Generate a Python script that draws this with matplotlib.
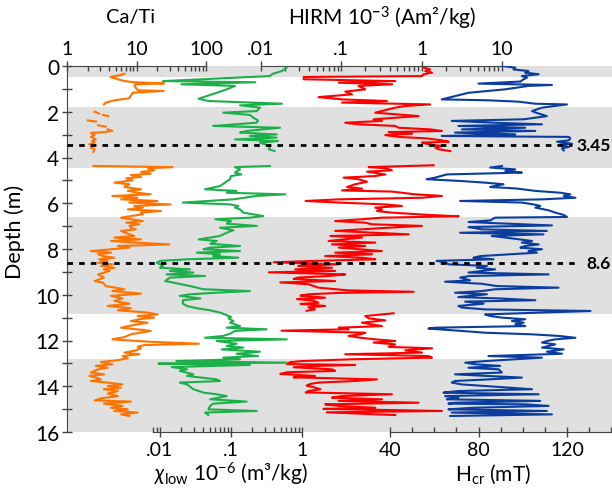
import numpy as np
import matplotlib
matplotlib.use('Agg')
import matplotlib.pyplot as plt
from matplotlib.ticker import FixedLocator, FixedFormatter, NullFormatter

plt.rcParams['font.family'] = ['Lato', 'DejaVu Sans']
plt.rcParams['mathtext.fontset'] = 'custom'
plt.rcParams['mathtext.rm'] = 'Lato'
plt.rcParams['mathtext.it'] = 'Lato:italic'
plt.rcParams['mathtext.bf'] = 'Lato:bold'

nan = np.nan

# ---------------- data ----------------
# Ca/Ti (orange)
cati_depth = [0.34, 0.39, 0.48, 0.58, 0.66, 0.71, 0.76, 0.80, 0.87, 1.06,
              1.09, 1.17, 1.41, 1.50, 1.60, 1.68, nan,
              2.00, 2.08, nan, 2.14, 2.19, nan, 2.38, 2.43, nan, 2.59, 2.65, nan,
              2.77, 2.84, 2.89, 2.93, 3.02, 3.10, 3.21, 3.28, 3.35, 3.42,
              3.50, 3.57, 3.64, 3.75, nan,
              4.37, 4.42, 4.47, 4.56, 4.63, 4.71, 4.77, 4.85, 4.91, 5.00,
              5.10, 5.17, 5.29, 5.39, 5.46, 5.54, 5.61, 5.68, 5.76, 5.83,
              5.90, 5.97, 6.05, 6.12, 6.19, 6.27, 6.34, 6.41, 6.48, 6.56,
              6.63, 6.70, 6.78, 6.85, 6.92, 6.99, 7.07, 7.14, 7.21, 7.36,
              7.43, 7.50, 7.58, 7.65, 7.72, 7.80, 7.87, 7.94, 8.01, 8.09,
              8.16, 8.23, 8.31, 8.38, 8.45, 8.52, 8.60, 8.67, 8.74, 8.82,
              8.89, 8.96, 9.11, 9.25, 9.40, 9.47, 9.62, 9.76, 9.84, 9.95,
              10.05, 10.16, 10.27, 10.39, 10.49, 10.59, 10.68, 10.78, 10.86, 10.93,
              11.00, 11.07, 11.15, 11.22, 11.37, 11.44, 11.58, 11.73, 11.85, 11.95,
              12.05, 12.14, 12.20, 12.27, 12.34, 12.43, 12.53, 12.60, 12.68, 12.78,
              12.87, 12.94, 13.04, 13.11, 13.19, 13.26, 13.40, 13.48, 13.55, 13.62,
              13.70, 13.77, 13.84, 13.92, 13.99, 14.06, 14.13, 14.21, 14.32, 14.43,
              14.53, 14.62, 14.67, 14.76, 14.86, 14.94, 15.01, 15.08, 15.15, 15.23,
              15.30]
cati = [6.7, 6.0, 4.2, 5.4, 6.7, 9.3, 25, 9.8, 9.3, 10.4,
        24.6, 8.8, 7.9, 4.8, 3.6, 3.4, nan,
        2.5, 2.9, nan, 3.3, 3.9, nan, 2.0, 2.6, nan, 2.8, 3.6, nan,
        3.85, 4.5, 3.4, 2.2, 2.5, 2.2, 2.6, 2.3, 2.5, 2.1,
        2.3, 2.2, 2.5, 2.4, nan,
        2.4, 33, 14.5, 18, 11.6, 16, 8.3, 11.6, 7.1, 8.8,
        4.8, 7.9, 6.7, 11.6, 7.5, 10.4, 16, 4.5, 10.4, 6.0,
        20, 7.9, 31, 9.3, 12.3, 7.5, 22.5, 11.6, 12.3, 8.3,
        6.0, 8.3, 12.3, 7.1, 11, 7.9, 8.3, 9.8, 6.0, 7.9,
        9.3, 4.8, 11.6, 4.3, 9.8, 29.7, 5.4, 7.9, 4.3, 2.2,
        4.3, 2.8, 3.3, 4.8, 2.9, 3.85, 2.8, 4.5, 3.1, 4.8,
        3.4, 4.1, 2.8, 3.4, 2.5, 3.3, 3.6, 6.7, 4.5, 11.6,
        4.3, 6.3, 4.8, 7.9, 3.85, 8.3, 5.4, 14.5, 20, 10.4,
        18, 11, 8.3, 14.5, 7.5, 6.0, 16, 8.3, 6.7, 4.5,
        14.5, 79, 13, 10.4, 11.6, 9.8, 6.7, 11, 6.3, 7.5,
        5.1, 3.1, 4.5, 2.6, 3.85, 2.8, 2.2, 3.4, 2.1, 2.6,
        3.1, 2.2, 3.85, 6.3, 3.85, 6.0, 3.4, 5.4, 3.85, 5.4,
        3.1, 2.5, 8.3, 3.4, 6.3, 4.3, 7.5, 4.8, 10.4, 6.0,
        7.9]

# chi_low 1e-6 m3/kg (green)
chi_depth = [0.07, 0.22, 0.34, 0.44, 0.66, 0.71, 0.80, 0.87, 1.02, 1.17,
             1.43, 1.53, 1.65, 1.72, 1.82, 1.97, 2.04, 2.14, 2.26, 2.38,
             2.48, 2.62, 2.70, 2.84, 2.91, 2.99, 3.06, 3.13, 3.21, 3.28,
             3.35, 3.45, 3.54, 3.64, 3.72, nan,
             4.37, 4.42, 4.52, 4.66, 4.74, 4.81, 4.95, 5.10, 5.25, 5.39,
             5.46, 5.54, 5.61, 5.68, 5.83, 5.97, 6.05, 6.12, 6.19, 6.27,
             6.41, 6.56, 6.63, 6.70, 6.78, 6.89, 6.99, 7.07, 7.18, 7.29,
             7.43, 7.58, 7.65, 7.77, 7.87, 7.94, 8.01, 8.09, 8.16, 8.23,
             8.31, 8.38, 8.45, 8.52, 8.60, 8.67, 8.74, 8.82, 8.89, 8.96,
             9.03, 9.11, 9.18, 9.25, 9.40, 9.47, 9.62, 9.76, 9.84, 9.91,
             9.98, 10.05, 10.16, 10.24, 10.39, 10.49, 10.59, 10.68, 10.78, 10.89,
             10.97, 11.03, 11.15, 11.22, 11.37, 11.44, 11.51, 11.58, 11.70, 11.80,
             11.88, 11.95, 12.02, 12.14, 12.24, 12.31, 12.39, 12.49, 12.58, 12.68,
             12.75, 12.82, 12.90, 12.97, 13.01, 13.07, 13.16, 13.26, 13.33, 13.48,
             13.55, 13.70, 13.77, 13.84, 13.92, 14.13, 14.28, 14.35, 14.43, 14.57,
             14.67, 14.76, 14.86, 15.01, 15.08, 15.15, 15.26]
chi = [0.61, 0.52, 0.39, 0.35, 0.011, 0.22, 0.020, 0.114, 0.087, 0.063,
       0.035, 0.048, 0.52, 0.134, 0.256, 0.23, 0.078, 0.185, 0.206, 0.24,
       0.23, 0.056, 0.49, 0.166, 0.134, 0.44, 0.185, 0.44, 0.114, 0.46,
       0.256, 0.318, 0.354, 0.34, 0.41, nan,
       0.354, 0.114, 0.134, 0.114, 0.14, 0.10, 0.097, 0.082, 0.070, 0.043,
       0.12, 0.087, 0.58, 0.23, 0.108, 0.021, 0.097, 0.127, 0.114, 0.134,
       0.149, 0.285, 0.185, 0.06, 0.10, 0.087, 0.23, 0.070, 0.108, 0.087,
       0.070, 0.035, 0.063, 0.051, 0.134, 0.051, 0.041, 0.134, 0.033, 0.070,
       0.056, 0.127, 0.024, 0.010, 0.009, 0.010, 0.011, 0.010, 0.0265, 0.0138,
       0.0295, 0.0124, 0.043, 0.0138, 0.0118, 0.0154, 0.0265, 0.041, 0.185, 0.063,
       0.0265, 0.019, 0.037, 0.021, 0.021, 0.024, 0.033, 0.051, 0.070, 0.087,
       0.10, 0.092, 0.108, 0.097, 0.134, 0.087, 0.318, 0.114, 0.097, 0.078,
       0.043, 0.61, 0.063, 0.12, 0.087, 0.149, 0.074, 0.256, 0.12, 0.24,
       0.078, 0.134, 0.017, 0.61, 0.0095, 0.185, 0.0146, 0.024, 0.019, 0.0295,
       0.024, 0.063, 0.070, 0.019, 0.024, 0.0295, 0.041, 0.063, 0.087, 0.051,
       0.166, 0.056, 0.051, 0.048, 0.23, 0.043, 0.048]

# HIRM 1e-3 Am2/kg (red)
hirm_depth = [0.07, 0.15, 0.22, 0.29, 0.36, 0.44, 0.48, 0.58, 0.66, 0.73,
              0.80, 0.87, 1.02, 1.12, 1.24, 1.36, 1.46, 1.53, 1.60, 1.68,
              1.75, 1.82, 1.97, 2.04, 2.19, 2.33, 2.40, 2.48, 2.55, 2.62,
              2.70, 2.77, 2.84, 2.89, 2.96, 3.02, 3.10, 3.16, 3.25, 3.31,
              3.35, 3.42, 3.50, 3.57, 3.64, 3.72, nan,
              4.34, 4.42, 4.47, 4.56, 4.62, 4.74, 4.81, 4.88, 4.95, 5.06,
              5.17, 5.29, 5.36, 5.44, 5.49, 5.61, 5.68, 5.76, 5.83, 5.90,
              5.97, 6.05, 6.12, 6.19, 6.27, 6.34, 6.41, 6.51, 6.57, 6.63,
              6.70, 6.78, 6.85, 6.92, 6.99, 7.07, 7.21, 7.36, 7.43, 7.50,
              7.65, 7.72, 7.80, 7.87, 7.94, 8.09, 8.16, 8.23, 8.31, 8.38,
              8.45, 8.52, 8.58, 8.67, 8.74, 8.82, 8.89, 8.96, 9.02, 9.11,
              9.18, 9.25, 9.31, 9.40, 9.46, 9.54, 9.69, 9.81, 9.87, 9.92,
              9.98, 10.04, 10.13, 10.19, 10.26, 10.35, 10.40, 10.49, 10.55, 10.64,
              10.70, nan,
              10.81, 10.93, 11.03, 11.12, 11.22, 11.37, 11.44, 11.51, 11.57, 11.66,
              11.73, 11.80, 11.88, 11.95, 12.02, 12.09, 12.17, 12.28, 12.34, 12.43,
              12.53, 12.60, 12.68, 12.75, 12.82, 12.90, 12.95, 13.03, 13.07, 13.11,
              13.17, 13.26, 13.33, 13.39, 13.46, 13.55, 13.61, 13.70, 13.77, 13.84,
              13.90, 13.97, 14.06, 14.13, 14.21, 14.27, 14.35, 14.43, 14.50, 14.57,
              14.64, 14.72, 14.79, 14.86, 14.94, 14.99, 15.08, 15.14, 15.26]
hirm = [1.06, 1.28, 1.11, 1.35, 1.06, 1.01, 0.034, 0.034, 0.47, 0.093,
        0.43, 0.164, 0.199, 0.112, 0.136, 0.052, 0.102, 0.37, 0.102, 1.28,
        0.63, 0.47, 0.32, 0.265, 0.92, 0.253, 0.32, 0.112, 0.164, 0.47,
        0.52, 1.28, 1.79, 0.388, 0.76, 0.353, 0.52, 1.11, 1.79, 2.17,
        1.01, 1.22, 1.79, 1.48, 1.63, 2.28, nan,
        1.41, 0.219, 0.353, 0.427, 0.209, 0.353, 0.265, 0.107, 0.164, 0.209,
        0.149, 0.118, 0.181, 0.102, 0.427, 0.834, 1.79, 1.01, 0.093, 0.036,
        0.093, 0.353, 0.569, 0.265, 0.321, 0.278, 0.427, 1.22, 2.89, 0.321,
        0.181, 0.084, 0.199, 0.241, 1.01, 0.388, 0.084, 0.689, 0.073, 0.181,
        0.0695, 0.265, 0.0765, 0.199, 0.093, 0.321, 0.084, 0.241, 0.063, 0.181,
        0.265, 0.047, 0.0144, 0.093, 0.029, 0.0765, 0.0267, 0.084, 0.0125, 0.112,
        0.0695, 0.029, 0.0255, 0.084, 0.0174, 0.039, 0.052, 0.123, 0.796, 0.093,
        0.039, 0.031, 0.063, 0.028, 0.045, 0.052, 0.031, 0.063, 0.039, 0.047,
        0.037, nan,
        0.449, 0.199, 0.219, 0.353, 0.181, 0.321, 0.093, 0.123, 0.018, 0.199,
        0.173, 0.123, 0.173, 0.265, 0.47, 0.253, 0.47, 0.388, 1.35, 0.627,
        1.01, 0.112, 1.22, 1.35, 0.136, 0.032, 0.023, 0.021, 0.149, 0.050,
        0.0255, 0.0765, 0.084, 0.021, 0.0174, 0.047, 0.0255, 0.278, 0.149, 0.052,
        0.041, 0.037, 0.047, 0.055, 0.039, 0.036, 0.427, 0.102, 0.0765, 0.321,
        0.093, 0.918, 0.063, 0.093, 0.265, 0.060, 1.79, 0.066, 0.47]

# Hcr mT (blue)
hcr_depth = [0.00, 0.07, 0.15, 0.22, 0.29, 0.36, 0.44, 0.51, 0.58, 0.68,
             0.77, 0.83, 0.87, 1.02, 1.17, 1.46, 1.50, 1.56, 1.65, 1.68,
             1.82, 1.97, 2.08, 2.19, 2.33, 2.40, 2.48, 2.55, 2.62, 2.70,
             2.77, 2.84, 2.91, 2.99, 3.06, 3.10, 3.16, 3.25, 3.31, 3.40,
             3.45, 3.54, 3.60, 3.69, nan,
             4.37, 4.44, 4.52, 4.59, 4.66, 4.74, 4.88, 4.95, 5.03, 5.10,
             5.17, 5.29, 5.35, 5.46, 5.54, 5.61, 5.68, 5.76, 5.83, 5.90,
             5.97, 6.05, 6.12, 6.19, 6.31, 6.41, 6.51, 6.60, 6.63, 6.75,
             6.82, 6.88, 6.97, 7.04, 7.14, 7.21, 7.29, 7.36, 7.43, 7.50,
             7.65, 7.72, 7.80, 7.87, 7.94, 8.01, 8.09, 8.16, 8.31, 8.38,
             8.45, 8.52, 8.58, 8.67, 8.74, 8.82, 8.89, 8.96, 9.03, 9.11,
             9.18, 9.25, 9.37, 9.43, 9.52, 9.62, 9.69, 9.76, 9.84, 9.91,
             9.98, 10.10, 10.16, 10.24, 10.30, 10.39, 10.49, 10.56, 10.64, 10.71,
             10.86, 10.93, 11.00, 11.07, 11.15, 11.22, 11.29, 11.37, 11.44, 11.48,
             11.56, 11.66, 11.73, 11.80, 11.88, 11.95, 12.02, 12.09, 12.17, 12.24,
             12.31, 12.39, 12.49, 12.58, 12.68, 12.75, 12.90, 12.97, 13.04, 13.11,
             13.19, 13.26, 13.40, 13.48, 13.55, 13.62, 13.70, 13.77, 13.84, 13.92,
             14.03, 14.13, 14.21, 14.28, 14.35, 14.43, 14.50, 14.57, 14.64, 14.72,
             14.76, 14.79, 14.86, 14.94, 15.01, 15.08, 15.15, 15.23, 15.30]
hcr = [90.6, 96.6, 95.8, 102.6, 101.1, 107.2, 99.6, 101.9, 100.4, 98.9,
       80.0, 113.2, 102.6, 92.1, 75.5, 63.4, 84.5, 98.1, 105.7, 120.0,
       108.7, 104.2, 107.2, 110.9, 100.4, 67.9, 87.5, 108.7, 70.9, 101.1,
       72.5, 105.7, 69.4, 96.6, 63.4, 120.8, 121.5, 120.8, 115.5, 122.3,
       116.2, 120.8, 117.7, 118.5, nan,
       90.6, 85.3, 96.6, 92.1, 99.6, 65.7, 60.4, 56.6, 72.5, 83.0,
       91.3, 85.3, 96.6, 105.7, 117.0, 121.5, 118.5, 123.8, 108.7, 71.7,
       99.6, 104.9, 107.9, 105.7, 111.7, 114.7, 118.5, 120.0, 87.5, 85.3,
       75.5, 89.8, 113.2, 75.5, 81.5, 110.9, 71.7, 109.4, 86.0, 92.1,
       104.2, 99.6, 107.2, 101.1, 98.9, 108.7, 102.6, 106.4, 80.8, 77.7,
       86.8, 61.1, 64.9, 66.4, 83.8, 79.2, 87.5, 81.5, 75.5, 111.7,
       76.2, 71.7, 76.2, 64.9, 81.5, 88.3, 116.2, 87.5, 81.5, 69.4,
       83.8, 70.9, 89.1, 105.7, 74.0, 82.3, 70.9, 72.5, 83.0, 130.6,
       83.0, 85.3, 90.6, 101.1, 95.1, 100.4, 96.6, 101.1, 60.4, 57.4,
       69.4, 83.0, 104.2, 116.2, 123.8, 114.7, 110.9, 108.7, 114.7, 111.7,
       108.7, 118.5, 110.9, 117.7, 84.5, 108.7, 83.0, 74.0, 78.5, 89.8,
       75.5, 89.1, 90.6, 69.4, 83.8, 99.6, 84.5, 69.4, 67.9, 72.5,
       89.1, 104.2, 70.9, 64.2, 107.2, 64.9, 70.9, 65.7, 107.9, 69.4,
       66.4, 101.1, 111.7, 77.7, 66.4, 110.9, 67.9, 113.2, 67.2]

grey_bands = [(0.0, 0.48), (1.8, 4.45), (6.6, 10.85), (12.8, 16.0)]
marker_depths = [3.45, 8.6]
marker_labels = ['3.45', '8.6']

cati_ticks = [1, 10, 100]
cati_ticklabels = ['1', '10', '100']
hirm_ticks = [0.01, 0.1, 1, 10]
hirm_ticklabels = ['.01', '.1', '1', '10']
chi_ticks = [0.01, 0.1, 1]
chi_ticklabels = ['.01', '.1', '1']
hcr_ticks = [40, 80, 120]
hcr_ticklabels = ['40', '80', '120']
depth_ticks = [0, 2, 4, 6, 8, 10, 12, 14, 16]

for name, d, v in [('cati', cati_depth, cati), ('chi', chi_depth, chi),
                   ('hirm', hirm_depth, hirm), ('hcr', hcr_depth, hcr)]:
    if len(d) != len(v):
        raise ValueError(f'{name}: {len(d)} depths vs {len(v)} values')

# ---------------- layout ----------------
FW, FH = 612, 489
L, R, T, B = 67, 612, 67, 433
W = R - L
pos = [L / FW, 1 - B / FH, W / FW, (B - T) / FH]

fig = plt.figure(figsize=(FW / 100, FH / 100), dpi=100)

ax = fig.add_axes(pos)
ax.set_xlim(0, 1)
ax.set_ylim(16, 0)
for s in ['top', 'right', 'bottom']:
    ax.spines[s].set_visible(False)
ax.spines['left'].set_color('#444444')
ax.set_xticks([])
ax.set_yticks(depth_ticks)
ax.set_yticks(np.arange(1, 16, 2), minor=True)
ax.tick_params(axis='y', which='both', direction='inout', length=7, width=1,
               color='#444444', labelsize=15, pad=2)
for y0, y1 in grey_bands:
    ax.axhspan(y0, y1, color='#E0E0E0', lw=0, zorder=0)

fig.text(15 / FW, 1 - 232 / FH, 'Depth (m)', rotation=90, fontsize=15.5,
         ha='center', va='center')


def log_lim(v0, x0, dec):
    lo = np.log10(v0) - (x0 - L) / dec
    hi = np.log10(v0) + (R - x0) / dec
    return 10 ** lo, 10 ** hi


def make_axis(scale, xlim, side, bounds, majors, labels, minors):
    a = fig.add_axes(pos, facecolor='none')
    a.set_xscale(scale)
    a.set_xlim(*xlim)
    a.set_ylim(16, 0)
    a.yaxis.set_visible(False)
    for s in ['left', 'right', 'top', 'bottom']:
        a.spines[s].set_visible(False)
    a.spines[side].set_visible(True)
    a.spines[side].set_bounds(*bounds)
    a.spines[side].set_color('#444444')
    a.xaxis.set_ticks_position(side)
    a.xaxis.set_major_locator(FixedLocator(majors))
    a.xaxis.set_major_formatter(FixedFormatter(labels))
    a.xaxis.set_minor_locator(FixedLocator(minors))
    a.xaxis.set_minor_formatter(NullFormatter())
    a.tick_params(axis='x', which='major', direction='inout', length=7, width=1,
                  color='#444444', labelsize=14, pad=3)
    a.tick_params(axis='x', which='minor', direction='in', length=3.5, width=1,
                  color='#444444')
    return a


def log_minors(lo_exp, hi_exp):
    return [m * 10.0 ** e for e in range(lo_exp, hi_exp) for m in range(2, 10)]


ax_cati = make_axis('log', log_lim(1, 67, 69.5), 'top', (1, 100),
                    cati_ticks, cati_ticklabels, log_minors(0, 2))
ax_hirm = make_axis('log', log_lim(0.01, 261, 80.3), 'top', (0.01, 10),
                    hirm_ticks, hirm_ticklabels, log_minors(-2, 1))
ax_chi = make_axis('log', log_lim(0.01, 160, 71), 'bottom', (0.008, 1),
                   chi_ticks, chi_ticklabels, [0.008, 0.009] + log_minors(-2, 0))
hcr_px = 88.5 / 40
ax_hcr = make_axis('linear', (40 - (390 - L) / hcr_px, 40 + (R - 390) / hcr_px),
                   'bottom', (40, 140), hcr_ticks, hcr_ticklabels,
                   [50, 60, 70, 90, 100, 110, 130, 140])

lw = 1.5
ax_cati.plot(cati, cati_depth, color='#FF7300', lw=lw)
ax_chi.plot(chi, chi_depth, color='#1DB04A', lw=lw)
ax_hirm.plot(hirm, hirm_depth, color='#FF0000', lw=lw)
ax_hcr.plot(hcr, hcr_depth, color='#0B3D9F', lw=lw)

for dpt, lab, xend in zip(marker_depths, marker_labels, [572, 580]):
    ax_hcr.axhline(dpt, xmin=0, xmax=(xend - L) / W, color='black', lw=2,
                   ls=(0, (2, 2.2)), zorder=10)
    ax_hcr.text((611 - L) / W, dpt, lab, transform=ax_hcr.get_yaxis_transform(),
                ha='right', va='center', fontsize=12.5, fontweight='bold', zorder=11)

fig.text(131 / FW, 1 - 18 / FH, 'Ca/Ti', fontsize=14.5, ha='center', va='center')
fig.text(382 / FW, 1 - 18 / FH, r'HIRM 10$^{\mathbf{-}3}$ (Am²/kg)', fontsize=15,
         ha='center', va='center')
fig.text(231 / FW, 1 - 474 / FH, r'$\chi_{\mathrm{low}}$ 10$^{-6}$ (m³/kg)', fontsize=15,
         ha='center', va='center')
fig.text(493 / FW, 1 - 474 / FH, r'H$_{\mathrm{cr}}$ (mT)', fontsize=15,
         ha='center', va='center')

fig.savefig('out.png', dpi=100)
